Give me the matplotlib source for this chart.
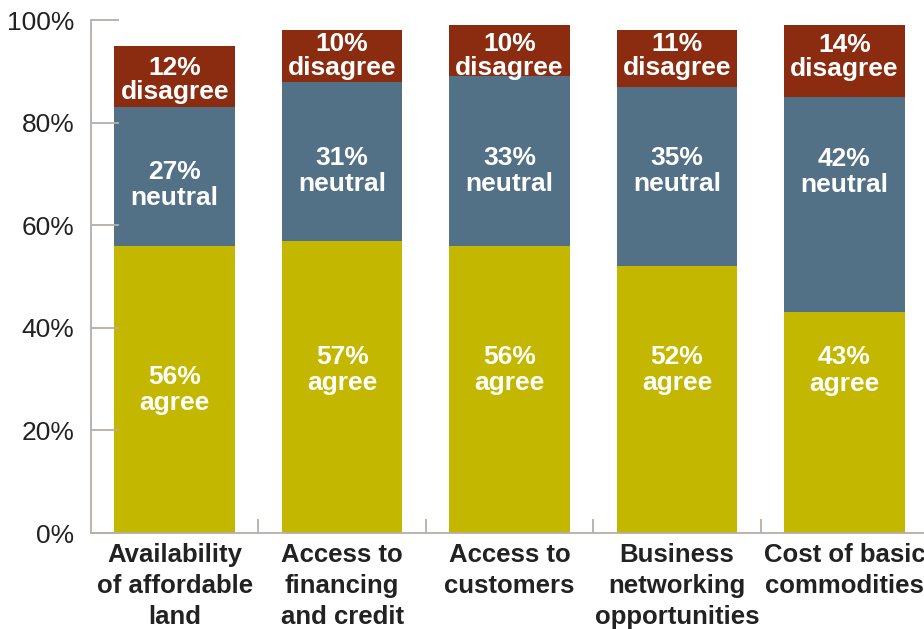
import numpy as np
import matplotlib.pyplot as plt
from matplotlib.ticker import FixedLocator

categories = ["Availability\nof affordable\nland", "Access to\nfinancing\nand credit",
              "Access to\ncustomers", "Business\nnetworking\nopportunities",
              "Cost of basic\ncommodities"]
agree = [56, 57, 56, 52, 43]
neutral = [27, 31, 33, 35, 42]
disagree = [12, 10, 10, 11, 14]
yticks = [0, 20, 40, 60, 80, 100]

# where the labels sit in the source (percent units)
agree_label_y = [27.9, 31.8, 31.8, 31.8, 31.7]
neutral_label_y = [67.8, 70.6, 70.6, 70.6, 70.4]
disagree_label_y = [88.3, 93.0, 93.0, 93.0, 92.8]

c_agree = "#c3b700"
c_neutral = "#537186"
c_disagree = "#8b2c10"
axis_col = "#b8aea6"

plt.rcParams['font.family'] = ['Liberation Sans', 'DejaVu Sans']

fig = plt.figure(figsize=(9.24, 6.29), dpi=100)
ax = fig.add_axes([0.0985, 0.1526, 0.906, 0.8156])

x = np.arange(len(categories))
w = 0.72
agree = np.array(agree)
neutral = np.array(neutral)
disagree = np.array(disagree)

ax.bar(x, agree, w, color=c_agree)
ax.bar(x, neutral, w, bottom=agree, color=c_neutral)
ax.bar(x, disagree, w, bottom=agree + neutral, color=c_disagree)

lab_kw = dict(ha="center", va="center", color="white", fontsize=19,
              fontweight="bold")
for i in x:
    ax.text(i, agree_label_y[i], f"{agree[i]}%\nagree", linespacing=1.13, **lab_kw)
    ax.text(i, neutral_label_y[i], f"{neutral[i]}%\nneutral", linespacing=1.1, **lab_kw)
    ax.text(i, disagree_label_y[i], f"{disagree[i]}%\ndisagree", linespacing=1.04, **lab_kw)

ax.set_xlim(-0.5, 4.5)
ax.set_ylim(0, 100)
ax.set_yticks(yticks)
ax.set_yticklabels([f"{v}%" for v in yticks], fontsize=19, color="#222222")
ax.set_xticks(x)
ax.set_xticklabels(categories, fontsize=18.5, fontweight="bold", color="#222222",
                   linespacing=1.38)
ax.xaxis.set_minor_locator(FixedLocator(x[:-1] + 0.5))
ax.tick_params(axis="x", which="major", length=0, pad=7)
ax.tick_params(axis="x", which="minor", direction="in", length=10, width=1.3, color=axis_col)
ax.tick_params(axis="y", direction="in", length=20, width=1.3, color=axis_col, pad=12)

for s in ["top", "right"]:
    ax.spines[s].set_visible(False)
for s in ["left", "bottom"]:
    ax.spines[s].set_color(axis_col)
    ax.spines[s].set_linewidth(1.3)

fig.savefig("out.png", dpi=100)
